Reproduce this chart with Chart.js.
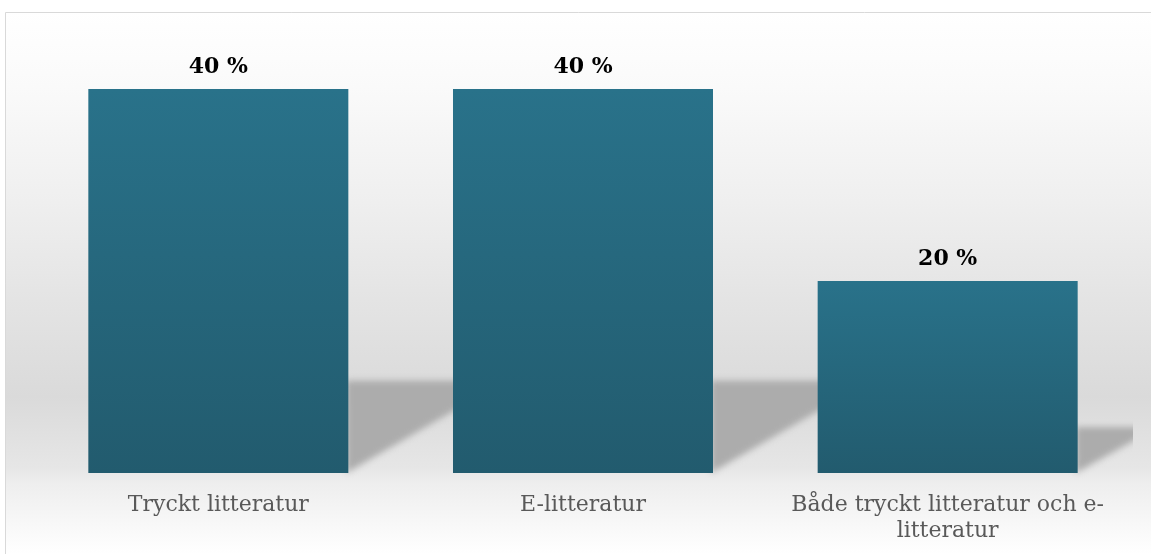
<!DOCTYPE html>
<html>
<head>
<meta charset="utf-8">
<script src="https://cdn.jsdelivr.net/npm/chart.js@4"></script>
<style>
  html, body { margin: 0; padding: 0; background: #fff; }
  #wrap { width: 1151px; height: 554px; }
</style>
</head>
<body>
<div id="wrap"><canvas id="chart1"></canvas></div>
<script>
// data
var categories = [
	'Tryckt litteratur',
	'E-litteratur',
	['Både tryckt litteratur och e-', 'litteratur']
];
var shares = [40, 40, 20];
var valueLabels = ['40 %', '40 %', '20 %'];

// background + border
var backdrop = {
	id: 'backdrop',
	beforeDraw: function(chart) {
		var c = chart.ctx;
		var w = chart.width, h = chart.height;
		c.save();
		c.fillStyle = '#ffffff';
		c.fillRect(0, 0, w, h);
		var g = c.createLinearGradient(0, 12, 0, h);
		g.addColorStop(0, '#ffffff');
		g.addColorStop(0.14, '#fafafa');
		g.addColorStop(0.35, '#efefef');
		g.addColorStop(0.53, '#e4e4e4');
		g.addColorStop(0.71, '#dadada');
		g.addColorStop(0.84, '#e6e6e6');
		g.addColorStop(0.87, '#eeeeee');
		g.addColorStop(1, '#ffffff');
		c.fillStyle = g;
		c.fillRect(5, 12, w - 5, h - 12);
		c.strokeStyle = '#d9d9d9';
		c.lineWidth = 1;
		c.beginPath();
		c.moveTo(5.5, h);
		c.lineTo(5.5, 12.5);
		c.lineTo(w, 12.5);
		c.stroke();
		c.restore();
	}
};

// soft shadow falling to the right of each bar
var barShadows = {
	id: 'barShadows',
	beforeDatasetsDraw: function(chart) {
		var c = chart.ctx;
		var meta = chart.getDatasetMeta(0);
		c.save();
		c.beginPath();
		c.rect(0, 0, chart.chartArea.right + 3, chart.height);
		c.clip();
		c.filter = 'blur(3px)';
		c.fillStyle = '#acacac';
		meta.data.forEach(function(bar) {
			var right = bar.x + bar.width / 2;
			var sh = (bar.base - bar.y) * 0.24;
			c.beginPath();
			c.moveTo(right - 2, bar.base);
			c.lineTo(right - 2, bar.base - sh);
			c.lineTo(right + sh / 0.6 + 10, bar.base - sh);
			c.lineTo(right + sh / 0.6, bar.base - sh + 2);
			c.closePath();
			c.fill();
		});
		c.restore();
	}
};

// value labels above bars
var topLabels = {
	id: 'topLabels',
	afterDatasetsDraw: function(chart) {
		var c = chart.ctx;
		var meta = chart.getDatasetMeta(0);
		c.save();
		c.font = 'bold 22px "DejaVu Serif"';
		c.fillStyle = '#000000';
		c.textAlign = 'center';
		c.textBaseline = 'alphabetic';
		meta.data.forEach(function(bar, i) {
			c.fillText(valueLabels[i], bar.x, bar.y - 16);
		});
		c.restore();
	}
};

var config1 = {
	type: 'bar',
	data: {
		labels: categories,
		datasets: [{
			data: shares,
			backgroundColor: function(context) {
				var chart = context.chart;
				if (!chart.chartArea) return '#266a80';
				var y = chart.scales.y;
				var top = y.getPixelForValue(context.raw);
				var bottom = y.getPixelForValue(0);
				var g = chart.ctx.createLinearGradient(0, top, 0, bottom);
				g.addColorStop(0, '#29728a');
				g.addColorStop(1, '#225b6e');
				return g;
			},
			borderWidth: 0,
			categoryPercentage: 1,
			barPercentage: 0.713
		}]
	},
	options: {
		responsive: true,
		maintainAspectRatio: false,
		animation: false,
		layout: {
			padding: { left: 36, right: 21, top: 89, bottom: 0 }
		},
		scales: {
			x: {
				grid: { display: false, drawTicks: false },
				border: { display: false },
				ticks: {
					color: '#595959',
					padding: 20,
					maxRotation: 0,
					autoSkip: false,
					font: { family: '"DejaVu Serif"', size: 22, lineHeight: 1.15 }
				},
				afterFit: function(scale) { scale.height = 81; }
			},
			y: {
				display: false,
				min: 0,
				max: 40
			}
		},
		plugins: {
			legend: { display: false },
			tooltip: { enabled: false }
		}
	},
	plugins: [backdrop, barShadows, topLabels]
};

var chart1 = new Chart(document.getElementById('chart1'), config1);
</script>
</body>
</html>
